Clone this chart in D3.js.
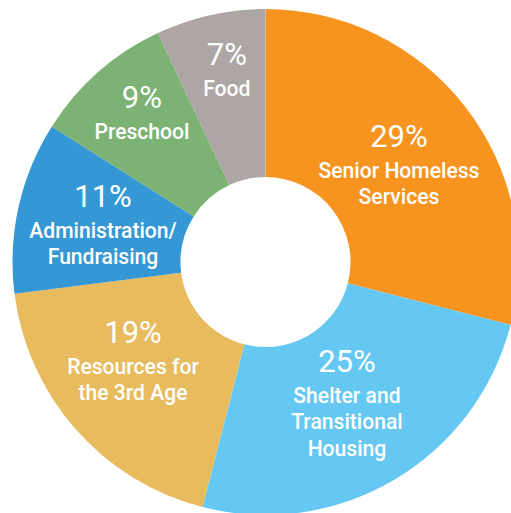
<!DOCTYPE html>
<html>
<head>
<meta charset="utf-8">
<script src="https://cdn.jsdelivr.net/npm/d3@7"></script>
<style>
  html, body { margin: 0; padding: 0; background: #ffffff; }
  svg { display: block; }
  .pct { font-family: Roboto, "DejaVu Sans Condensed", sans-serif; fill: #ffffff; font-weight: 400; }
  .lbl { font-family: Roboto, "DejaVu Sans Condensed", sans-serif; fill: #ffffff; font-weight: 500; }
</style>
</head>
<body>
<svg id="chart" width="511" height="513"></svg>
<script>
// budget breakdown, clockwise from 12 o'clock
var categories = ["Senior Homeless Services", "Shelter and Transitional Housing", "Resources for the 3rd Age",
  "Administration/Fundraising", "Preschool", "Food"];
var shares = [29, 25, 19, 11, 9, 7];
var labelLines = [
  ["Senior Homeless", "Services"],
  ["Shelter and", "Transitional", "Housing"],
  ["Resources for", "the 3rd Age"],
  ["Administration/", "Fundraising"],
  ["Preschool"],
  ["Food"]
];
var colors = ["#f7941f", "#65c8f2", "#e8bb5f", "#3598d4", "#7cb273", "#ada6a4"];

var cx = 265.5, cy = 262;
var outerR = 253, innerR = 85;

var svg = d3.select("#chart");
var g = svg.append("g").attr("transform", "translate(" + cx + "," + cy + ")");

var pie = d3.pie().sort(null).value(function (d) { return d; });
var arcs = pie(shares);

var arc = d3.arc().innerRadius(innerR).outerRadius(outerR);

g.selectAll("path.slice")
  .data(arcs)
  .enter().append("path")
  .attr("class", "slice")
  .attr("d", arc)
  .attr("fill", function (d, i) { return colors[i]; });

// where each label block sits: radius and small angle nudge (degrees)
var labelR = [165.6, 162.4, 164.8, 166.9, 194.7, 197.3];
var labelNudge = [1.5, 0.5, 4.9, 0.6, 2, 1.3];
var lineH = 26.5;
var capH = 23, gap = 31;

arcs.forEach(function (d, i) {
  var a = (d.startAngle + d.endAngle) / 2 + labelNudge[i] * Math.PI / 180;
  var r = labelR[i];
  var x = r * Math.sin(a);
  var y = -r * Math.cos(a);
  var lines = labelLines[i];
  var h = capH + gap + (lines.length - 1) * lineH;
  var base = y - h / 2 + capH;

  var grp = g.append("g").attr("transform", "translate(" + x + "," + base + ")");
  grp.append("text")
    .attr("class", "pct")
    .attr("text-anchor", "middle")
    .attr("font-size", 32)
    .attr("transform", "scale(0.97,1)")
    .text(shares[i] + "%");
  lines.forEach(function (t, j) {
    grp.append("text")
      .attr("class", "lbl")
      .attr("text-anchor", "middle")
      .attr("y", gap + j * lineH)
      .attr("font-size", 22)
      .attr("transform", "scale(0.96,1)")
      .text(t);
  });
});
</script>
</body>
</html>
